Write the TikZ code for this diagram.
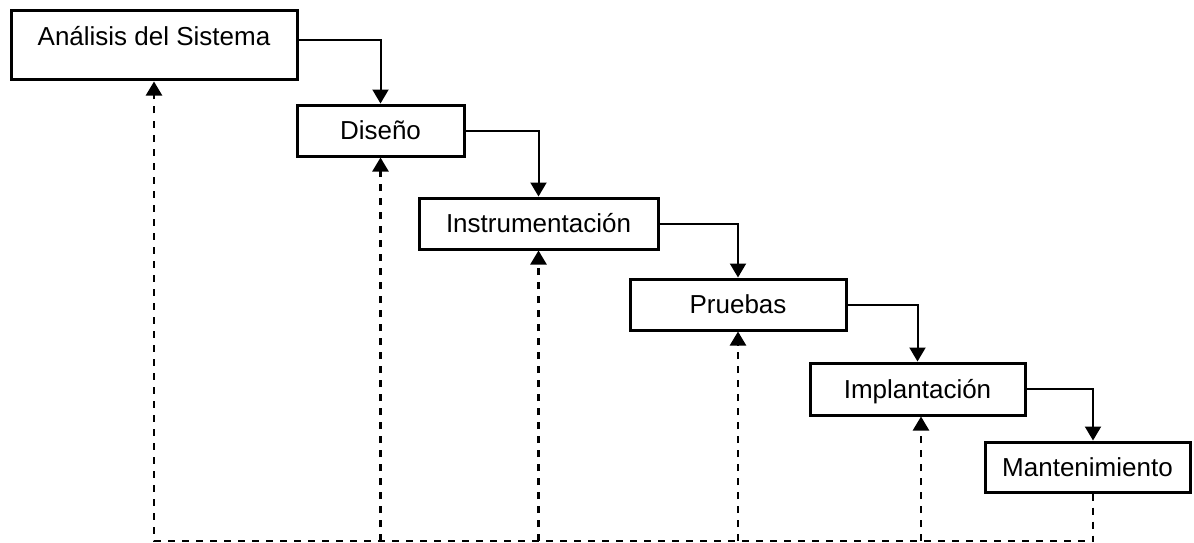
\documentclass[tikz,border=0pt]{standalone}
\usepackage{fontspec}
\setmainfont{Liberation Sans}
\usetikzlibrary{arrows.meta}

\begin{document}
\begin{tikzpicture}[x=1pt,y=-1pt,
  phase/.style={draw,line width=3pt,inner xsep=0pt,inner ysep=0pt,
    font=\fontsize{26}{31}\selectfont,text height=18.6pt,text depth=0pt},
  flow/.style={line width=2pt,-{Triangle[length=14pt,width=16pt]}},
  ret/.style={line width=2.3pt,dash pattern=on 7pt off 7pt,
    -{Triangle[length=14pt,width=16pt]}}]

  \useasboundingbox (0,0) rectangle (1194,543);

  % phases of the life cycle
  \node[phase,minimum width=286pt,minimum height=69pt,
        text height=35pt,text depth=34pt] (n1) at (154,45.5) {Análisis del Sistema};
  \node[phase,minimum width=167pt,minimum height=51pt] (n2) at (380.5,130.5) {Diseño};
  \node[phase,minimum width=239pt,minimum height=51pt] (n3) at (538.5,223.5) {Instrumentación};
  \node[phase,minimum width=216pt,minimum height=51pt] (n4) at (738,304.5) {Pruebas};
  \node[phase,minimum width=215pt,minimum height=52pt] (n5) at (917.5,389) {Implantación};
  \node[phase,minimum width=205pt,minimum height=50pt] (n6) at (1087.5,467) {Mantenimiento};

  % helper points
  \coordinate (floor) at (0,541);
  \coordinate (f5) at ([xshift=3.5pt]n5.south);
  \coordinate (f6s) at ([xshift=5.5pt]n6.south);
  \coordinate (f6n) at ([xshift=5.5pt]n6.north);

  % forward flow
  \draw[flow] ([yshift=5.5pt]n1.east) -| (n2.north);
  \draw[flow] (n2.east) -| (n3.north);
  \draw[flow] (n3.east) -| (n4.north);
  \draw[flow] (n4.east) -| (n5.north);
  \draw[flow] (n5.east) -| (f6n);

  % feedback paths
  \draw[ret] (f6s) |- (n1.south |- floor) -- (n1.south);
  \draw[ret] (n2.south |- floor) -- (n2.south);
  \draw[ret] (n3.south |- floor) -- (n3.south);
  \draw[ret] (n4.south |- floor) -- (n4.south);
  \draw[ret] (f5 |- floor) -- (f5);
\end{tikzpicture}
\end{document}
